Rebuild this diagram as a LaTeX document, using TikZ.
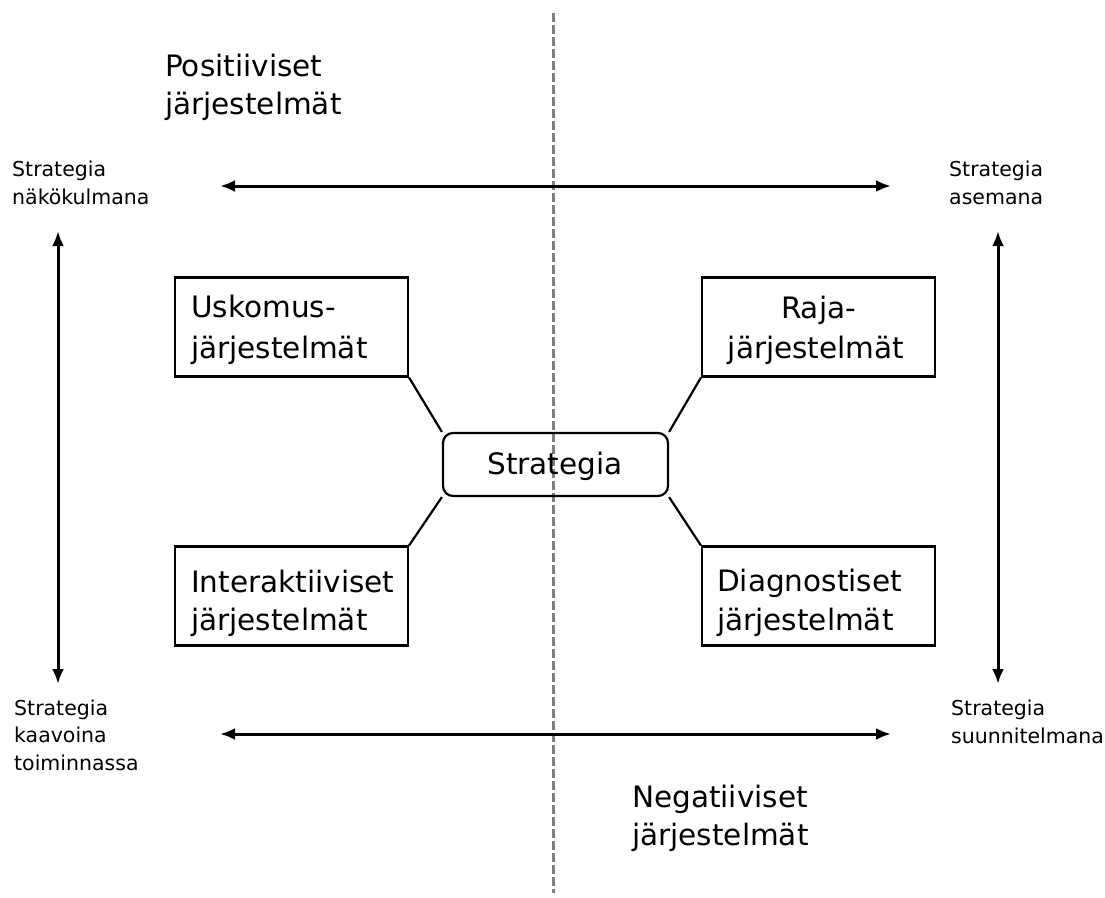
\documentclass[tikz,border=0pt]{standalone}
\usepackage{fontspec}
\setmainfont{DejaVu Sans}
\usetikzlibrary{arrows.meta}
\tikzset{
  big/.style={font=\fontsize{29.5}{38}\selectfont},
  small/.style={font=\fontsize{20.5}{27.5}\selectfont},
  lbl/.style={inner sep=0pt, align=left, anchor=base west},
  sysbox/.style={draw, line width=2.2pt, minimum width=233pt, minimum height=99pt, inner sep=0pt},
  dbl/.style={line width=3pt, {Latex[length=15pt,width=12pt]}-{Latex[length=15pt,width=12pt]}},
  conn/.style={line width=2.2pt},
}
\begin{document}
\begin{tikzpicture}[x=1pt,y=-1pt]
\useasboundingbox (0,0) rectangle (1105,897);
% dashed divider
\coordinate (dtop) at (553,13);
\coordinate (dbot) at (553,893);
\draw[line width=3pt, color=black!50, dash pattern=on 8.5pt off 3.5pt] (dtop) -- (dbot);

% titles (anchor = baseline of last line)
\node[lbl,big] (pos) at (165,114) {Positiiviset\\järjestelmät};
\node[lbl,big] (neg) at (632,845) {Negatiiviset\\järjestelmät};

% corner labels
\node[lbl,small] (nak) at (12,204) {Strategia\\näkökulmana};
\node[lbl,small] (ase) at (949,204) {Strategia\\asemana};
\node[lbl,small] (kaa) at (14,770) {Strategia\\kaavoina\\toiminnassa};
\node[lbl,small] (suu) at (951,743) {Strategia\\suunnitelmana};

% arrows
\coordinate (tl) at (220,186); \coordinate (tr) at (891,186);
\coordinate (bl) at (220,734); \coordinate (br) at (891,734);
\coordinate (lt) at (58,231);  \coordinate (lb) at (58,684);
\coordinate (rt) at (998,231); \coordinate (rb) at (998,684);
\draw[dbl] (tl) -- (tr);
\draw[dbl] (bl) -- (br);
\draw[dbl] (lt) -- (lb);
\draw[dbl] (rt) -- (rb);

% boxes
\node[sysbox] (usk) at (291.5,327) {};
\node[sysbox] (raj) at (818.5,327) {};
\node[sysbox] (int) at (291.5,596) {};
\node[sysbox] (dia) at (818.5,596) {};
\node[lbl,big] at (191,317) {Uskomus-};
\node[lbl,big] at (191,358) {järjestelmät};
\node[big,inner sep=0pt,anchor=base] at (818.5,318) {Raja-};
\node[big,inner sep=0pt,anchor=base] at (816,358) {järjestelmät};
\node[lbl,big] at (191,592) {Interaktiiviset};
\node[lbl,big] at (191,630) {järjestelmät};
\node[lbl,big] at (717,591) {Diagnostiset};
\node[lbl,big] at (717,630) {järjestelmät};

% center
\node[draw, line width=2.2pt, rounded corners=10pt, minimum width=225pt, minimum height=63pt, inner sep=0pt] (str) at (555.5,464.5) {};
\node[big,inner sep=0pt,anchor=base] at (555,474) {Strategia};

% connectors
\draw[conn] (usk.south east) -- (str.north west);
\draw[conn] (raj.south west) -- (str.north east);
\draw[conn] (int.north east) -- (str.south west);
\draw[conn] (dia.north west) -- (str.south east);
\end{tikzpicture}
\end{document}
